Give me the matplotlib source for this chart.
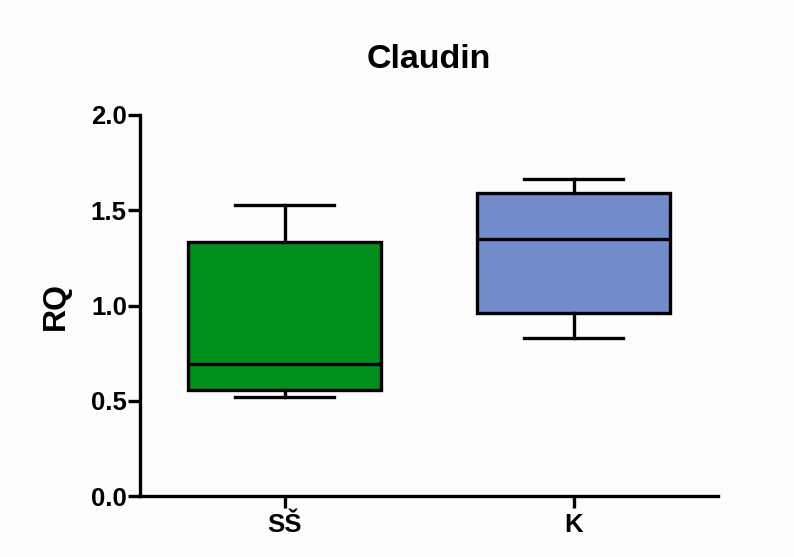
import matplotlib
matplotlib.use("Agg")
import matplotlib.pyplot as plt

plt.rcParams['font.family'] = ['Liberation Sans', 'DejaVu Sans']

categories = ["SŠ", "K"]
whisker_low = [0.52, 0.83]
q1 = [0.556, 0.96]
median = [0.693, 1.35]
q3 = [1.333, 1.589]
whisker_high = [1.528, 1.662]
colors = ["#008F1C", "#728BCB"]
title = "Claudin"
ylabel = "RQ"
yticks = [0.0, 0.5, 1.0, 1.5, 2.0]

fig = plt.figure(figsize=(7.94, 5.57), dpi=100, facecolor="#FDFDFD")
ax = fig.add_axes([140/794, 1-496/557, 578/794, 381/557])
ax.set_facecolor("#FDFDFD")

stats = []
for i, c in enumerate(categories):
    stats.append(dict(label=c, whislo=whisker_low[i], q1=q1[i], med=median[i],
                      q3=q3[i], whishi=whisker_high[i], fliers=[]))

lw = 2.4
bp = ax.bxp(stats, positions=[1, 2], widths=0.67, patch_artist=True, showfliers=False,
            boxprops=dict(linewidth=lw, edgecolor="black"),
            medianprops=dict(color="black", linewidth=lw),
            whiskerprops=dict(color="black", linewidth=lw),
            capprops=dict(color="black", linewidth=lw),
            capwidths=0.34)
for patch, col in zip(bp['boxes'], colors):
    patch.set_facecolor(col)

ax.set_xlim(0.5, 2.5)
ax.set_ylim(0, 2.0)
ax.set_yticks(yticks)
ax.set_yticklabels([f"{t:.1f}" for t in yticks])
ax.set_xticks([1, 2])
ax.set_xticklabels(categories)

for s in ["top", "right"]:
    ax.spines[s].set_visible(False)
for s in ["left", "bottom"]:
    ax.spines[s].set_linewidth(2.4)
ax.tick_params(axis='both', width=2.4, length=8.5, labelsize=18.5, pad=1)
for lab in ax.get_xticklabels() + ax.get_yticklabels():
    lab.set_fontweight('bold')
ax.tick_params(axis='x', pad=4)

ax.set_title(title, fontsize=24.5, fontweight='bold', pad=34)
ax.set_ylabel(ylabel, fontsize=23, fontweight='bold', labelpad=14)

fig.savefig("out.png", dpi=100, facecolor=fig.get_facecolor())
